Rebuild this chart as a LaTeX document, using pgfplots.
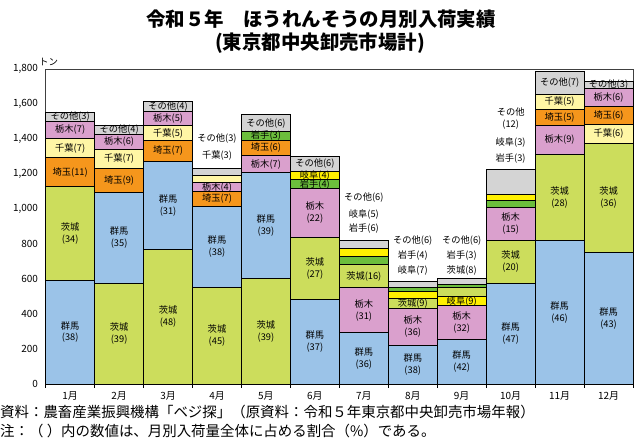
\documentclass[border=0pt]{standalone}
\usepackage{fontspec}
\setmainfont{Noto Sans CJK JP}
\usepackage{pgfplots}
\pgfplotsset{compat=1.18}
\definecolor{gunma}{RGB}{155,195,232}
\definecolor{ibaraki}{RGB}{204,221,92}
\definecolor{saitama}{RGB}{245,150,28}
\definecolor{chiba}{RGB}{255,246,165}
\definecolor{tochigi}{RGB}{218,160,205}
\definecolor{sonota}{RGB}{212,212,212}
\definecolor{iwate}{RGB}{108,190,60}
\definecolor{gifu}{RGB}{255,240,0}
% \seg{color}{month}{cumulative top}
\newcommand{\seg}[3]{\addplot[ybar, bar shift=0pt, bar width=1, draw=black, line width=0.9bp, fill=#1] coordinates {(#2,#3)};}
\newcommand{\lab}[3]{\node[font=\fontsize{9.3}{12}\selectfont, align=center, inner sep=0pt] at (axis cs:#1,#2) {#3};}
\begin{document}
\begin{tikzpicture}[x=1bp,y=1bp]
\useasboundingbox (0,0) rectangle (640,443);
\node[font=\fontsize{19.5}{21}\selectfont\bfseries] at (321,424) {令和５年　ほうれんそうの月別入荷実績};
\node[font=\fontsize{19.5}{21}\selectfont\bfseries] at (320,400) {(東京都中央卸売市場計)};
\node[font=\fontsize{9.5}{10}\selectfont, anchor=west, inner sep=0pt] at (39,381) {トン};
\node[font=\fontsize{14.5}{15}\selectfont, anchor=west, inner sep=0pt] at (0,31) {資料：農畜産業振興機構「ベジ探」（原資料：令和５年東京都中央卸売市場年報）};
\node[font=\fontsize{14.5}{15}\selectfont, anchor=west, inner sep=0pt] at (0,12) {注：（ ）内の数値は、月別入荷量全体に占める割合（\%）である。};
\begin{axis}[
  at={(45.7bp,59bp)}, anchor=south west,
  scale only axis, width=587.3bp, height=315bp,
  xmin=0.5, xmax=12.5, ymin=0, ymax=1800,
  xtick={1,...,12},
  xticklabels={1月,2月,3月,4月,5月,6月,7月,8月,9月,10月,11月,12月},
  minor xtick={0.5,1.5,...,12.5},
  major x tick style={draw=none},
  minor x tick style={black, line width=0.8bp},
  tick align=outside,
  minor tick length=4bp,
  ytick={0,200,...,1800},
  ytick style={draw=none},
  xtick pos=bottom, ytick pos=left,
  scaled y ticks=false,
  /pgf/number format/1000 sep={,},
  /pgf/number format/assume math mode=true,
  tick label style={font=\fontsize{10}{11}\selectfont},
  axis line style={black!75, line width=0.8bp},
  clip=false,
]
% 1月: 群馬, 茨城, 埼玉, 千葉, 栃木, その他
\seg{sonota}{1}{1554}\seg{tochigi}{1}{1501}\seg{chiba}{1}{1404}\seg{saitama}{1}{1293}\seg{ibaraki}{1}{1127}\seg{gunma}{1}{594}
% 2月: 茨城, 群馬, 埼玉, 千葉, 栃木, その他
\seg{sonota}{2}{1480}\seg{tochigi}{2}{1427}\seg{chiba}{2}{1341}\seg{saitama}{2}{1232}\seg{gunma}{2}{1097}\seg{ibaraki}{2}{573}
% 3月
\seg{sonota}{3}{1617}\seg{tochigi}{3}{1556}\seg{chiba}{3}{1476}\seg{saitama}{3}{1390}\seg{gunma}{3}{1274}\seg{ibaraki}{3}{770}
% 4月: 茨城, 群馬, 埼玉, 栃木, 千葉, その他
\seg{sonota}{4}{1229}\seg{chiba}{4}{1190}\seg{tochigi}{4}{1150}\seg{saitama}{4}{1099}\seg{gunma}{4}{1017}\seg{ibaraki}{4}{554}
% 5月: 茨城, 群馬, 栃木, 埼玉, 岩手, その他
\seg{sonota}{5}{1541}\seg{iwate}{5}{1442}\seg{saitama}{5}{1394}\seg{tochigi}{5}{1305}\seg{gunma}{5}{1206}\seg{ibaraki}{5}{604}
% 6月: 群馬, 茨城, 栃木, 岩手, 岐阜, その他
\seg{sonota}{6}{1299}\seg{gifu}{6}{1217}\seg{iwate}{6}{1167}\seg{tochigi}{6}{1118}\seg{ibaraki}{6}{838}\seg{gunma}{6}{484}
% 7月: 群馬, 栃木, 茨城, 岩手, 岐阜, その他
\seg{sonota}{7}{821}\seg{gifu}{7}{772}\seg{iwate}{7}{731}\seg{ibaraki}{7}{684}\seg{tochigi}{7}{550}\seg{gunma}{7}{295}
% 8月: 群馬, 栃木, 茨城, 岐阜, 岩手, その他
\seg{sonota}{8}{588}\seg{iwate}{8}{552}\seg{gifu}{8}{528}\seg{ibaraki}{8}{487}\seg{tochigi}{8}{434}\seg{gunma}{8}{222}
% 9月: 群馬, 栃木, 岐阜, 茨城, 岩手, その他
\seg{sonota}{9}{603}\seg{iwate}{9}{567}\seg{ibaraki}{9}{549}\seg{gifu}{9}{501}\seg{tochigi}{9}{447}\seg{gunma}{9}{254}
% 10月: 群馬, 茨城, 栃木, 岩手, 岐阜, その他
\seg{sonota}{10}{1227}\seg{gifu}{10}{1084}\seg{iwate}{10}{1050}\seg{tochigi}{10}{1010}\seg{ibaraki}{10}{823}\seg{gunma}{10}{575}
% 11月: 群馬, 茨城, 栃木, 埼玉, 千葉, その他
\seg{sonota}{11}{1785}\seg{chiba}{11}{1657}\seg{saitama}{11}{1571}\seg{tochigi}{11}{1476}\seg{ibaraki}{11}{1314}\seg{gunma}{11}{823}
% 12月: 群馬, 茨城, 千葉, 埼玉, 栃木, その他
\seg{sonota}{12}{1730}\seg{tochigi}{12}{1690}\seg{saitama}{12}{1585}\seg{chiba}{12}{1484}\seg{ibaraki}{12}{1375}\seg{gunma}{12}{752}
% labels
\lab{1}{297}{群馬\\(38)}\lab{1}{860}{茨城\\(34)}\lab{1}{1210}{埼玉(11)}\lab{1}{1348}{千葉(7)}\lab{1}{1452}{栃木(7)}\lab{1}{1527}{その他(3)}
\lab{2}{286}{茨城\\(39)}\lab{2}{835}{群馬\\(35)}\lab{2}{1164}{埼玉(9)}\lab{2}{1286}{千葉(7)}\lab{2}{1384}{栃木(6)}\lab{2}{1453}{その他(4)}
\lab{3}{385}{茨城\\(48)}\lab{3}{1022}{群馬\\(31)}\lab{3}{1332}{埼玉(7)}\lab{3}{1433}{千葉(5)}\lab{3}{1516}{栃木(5)}\lab{3}{1586}{その他(4)}
\lab{4}{277}{茨城\\(45)}\lab{4}{785}{群馬\\(38)}\lab{4}{1058}{埼玉(7)}\lab{4}{1124}{栃木(4)}\lab{4}{1400}{その他(3)}\lab{4}{1303}{千葉(3)}
\lab{5}{302}{茨城\\(39)}\lab{5}{905}{群馬\\(39)}\lab{5}{1255}{栃木(7)}\lab{5}{1350}{埼玉(6)}\lab{5}{1418}{岩手(3)}\lab{5}{1491}{その他(6)}
\lab{6}{242}{群馬\\(37)}\lab{6}{661}{茨城\\(27)}\lab{6}{978}{栃木\\(22)}\lab{6}{1142}{岩手(4)}\lab{6}{1192}{岐阜(4)}\lab{6}{1258}{その他(6)}
\lab{7}{147}{群馬\\(36)}\lab{7}{422}{栃木\\(31)}\lab{7}{617}{茨城(16)}\lab{7}{1065}{その他(6)}\lab{7}{971}{岐阜(5)}\lab{7}{886}{岩手(6)}
\lab{8}{111}{群馬\\(38)}\lab{8}{328}{栃木\\(36)}\lab{8}{460}{茨城(9)}\lab{8}{817}{その他(6)}\lab{8}{734}{岩手(4)}\lab{8}{649}{岐阜(7)}
\lab{9}{127}{群馬\\(42)}\lab{9}{350}{栃木\\(32)}\lab{9}{474}{岐阜(9)}\lab{9}{817}{その他(6)}\lab{9}{734}{岩手(3)}\lab{9}{649}{茨城(8)}
\lab{10}{287}{群馬\\(47)}\lab{10}{699}{茨城\\(20)}\lab{10}{917}{栃木\\(15)}\lab{10}{1515}{その他\\(12)}\lab{10}{1379}{岐阜(3)}\lab{10}{1287}{岩手(3)}
\lab{11}{411}{群馬\\(46)}\lab{11}{1068}{茨城\\(28)}\lab{11}{1395}{栃木(9)}\lab{11}{1523}{埼玉(5)}\lab{11}{1614}{千葉(5)}\lab{11}{1721}{その他(7)}
\lab{12}{376}{群馬\\(43)}\lab{12}{1063}{茨城\\(36)}\lab{12}{1430}{千葉(6)}\lab{12}{1535}{埼玉(6)}\lab{12}{1637}{栃木(6)}\lab{12}{1710}{その他(3)}
\end{axis}
\end{tikzpicture}
\end{document}
